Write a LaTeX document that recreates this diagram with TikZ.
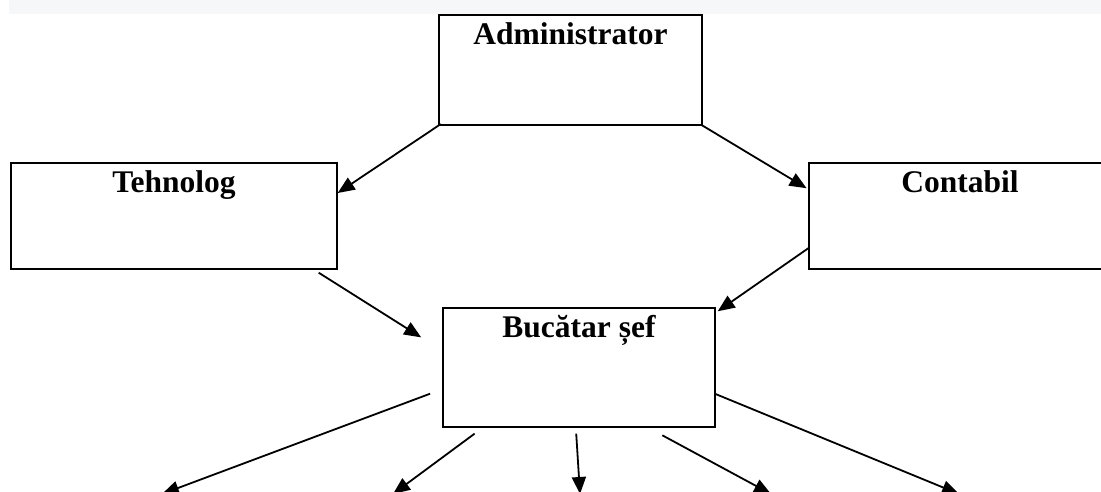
\documentclass[tikz,border=0pt]{standalone}
\usepackage{fontspec}
\setmainfont{Liberation Serif}
\usetikzlibrary{arrows.meta,positioning}
\definecolor{bandgray}{HTML}{F6F7F9}
\begin{document}
\begin{tikzpicture}[
            x=1pt, y=-1pt,
            box/.style={rectangle,draw,line width=1.4pt,fill=white,inner sep=0pt},
            lbl/.style={anchor=base,font=\fontsize{31.5}{36}\selectfont\bfseries,inner sep=0pt},
            every edge/.style={draw,line width=1.8pt,-{Triangle[length=17pt,width=14pt]}},
        ]
            \useasboundingbox (0,0) rectangle (1101,492);
            \fill[bandgray] (9,0) rectangle (1101,14.5);

            \node[box,minimum width=263pt,minimum height=110pt] (admin) at (570.5,70) {};
            \node[box,minimum width=326pt,minimum height=106pt] (tehn) at (174,216) {};
            \node[box,minimum width=302pt,minimum height=106pt] (cont) at (960,216) {};
            \node[box,minimum width=272pt,minimum height=119pt] (buc) at (579,367.5) {};

            \node[lbl] (adminlbl) at ([yshift=-30pt]admin.north) {Administrator};
            \node[lbl] (tehnlbl) at ([yshift=-30pt]tehn.north) {Tehnolog};
            \node[lbl] (contlbl) at ([yshift=-30pt]cont.north) {Contabil};
            \node[lbl] (buclbl) at ([yshift=-30pt]buc.north) {Bucătar șef};

            \coordinate (p1) at (162,494);
            \coordinate (p2) at (393,494);
            \coordinate (p3) at (580,494);
            \coordinate (p4) at (771,494);
            \coordinate (p5) at (959,494);

            \path (admin.south west) edge[shorten <=-3pt] (tehn.8);
            \path (admin.south east) edge[shorten <=-1pt, shorten >=2pt] (cont.170);
            \path ([xshift=-19pt,yshift=-3pt]tehn.south east) edge[shorten >=25pt] (buc.173);
            \path (cont.192) edge[shorten <=-1pt] ([xshift=2pt,yshift=-4pt]buc.north east);

            \path (buc.189) edge[shorten <=13pt] (p1);
            \path (buc.212) edge[shorten <=10pt] (p2);
            \path (buc.267) edge[shorten <=6pt] (p3);
            \path (buc.319) edge[shorten <=16pt] (p4);
            \path (buc.349) edge (p5);
        \end{tikzpicture}
\end{document}
